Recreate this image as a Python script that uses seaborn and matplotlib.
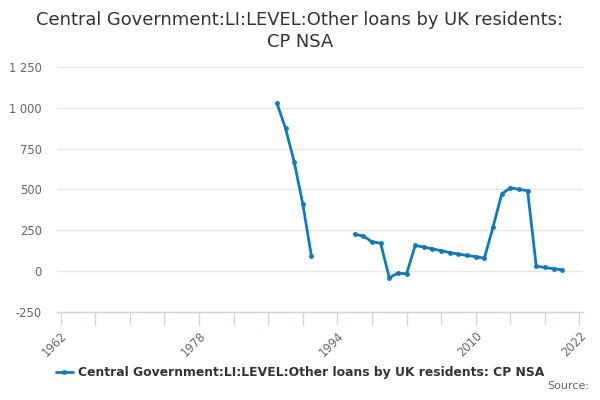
import pandas as pd
import numpy as np
import matplotlib
matplotlib.use('Agg')
import matplotlib.pyplot as plt
import seaborn as sns
from matplotlib.ticker import FixedLocator, FuncFormatter

# 数据
years_a = [1987, 1988, 1989, 1990, 1991]
values_a = [1030, 875, 670, 410, 90]

years_b = [1996, 1997, 1998, 1999, 2000, 2001, 2002, 2003, 2004, 2005,
           2006, 2007, 2008, 2009, 2010, 2011, 2012, 2013, 2014, 2015,
           2016, 2017, 2018, 2019, 2020]
values_b = [224, 214, 178, 170, -42, -14, -18, 156, 146, 135,
            124, 112, 103, 95, 87, 78, 268, 471, 510, 500,
            492, 28, 21, 13, 6]

series_name = 'Central Government:LI:LEVEL:Other loans by UK residents: CP NSA'
title = 'Central Government:LI:LEVEL:Other loans by UK residents:\nCP NSA'
major_years = [1962, 1978, 1994, 2010, 2022]
minor_years = list(range(1962, 2022, 4)) + [2022]
y_ticks = [-250, 0, 250, 500, 750, 1000, 1250]

df_a = pd.DataFrame({'year': years_a, 'value': values_a})
df_b = pd.DataFrame({'year': years_b, 'value': values_b})

sns.set_theme(style='white')
plt.rcParams['font.family'] = ['DejaVu Sans']

line_color = '#0c7bc4'
axis_color = '#ccd6eb'

fig = plt.figure(figsize=(6, 4), dpi=100)
ax = fig.add_axes([0.095, 0.221, 0.877, 0.611])

for d, lab in [(df_a, series_name), (df_b, None)]:
    sns.lineplot(data=d, x='year', y='value', ax=ax, color=line_color,
                 linewidth=2, marker='o', markersize=3.5,
                 markeredgewidth=0, label=lab, legend=False)

ax.set_xlim(1961.57, 2022.43)
ax.set_ylim(-250, 1250)
ax.set_xlabel('')
ax.set_ylabel('')

ax.xaxis.set_major_locator(FixedLocator(major_years))
ax.xaxis.set_minor_locator(FixedLocator([y for y in minor_years if y not in major_years]))
ax.set_xticklabels([str(y) for y in major_years], rotation=45, ha='right',
                   rotation_mode='anchor', fontsize=8.3, color='#666666')
ax.tick_params(axis='x', which='both', length=9, width=1, color=axis_color,
               direction='out', pad=4, bottom=True)

ax.set_yticks(y_ticks)
ax.yaxis.set_major_formatter(FuncFormatter(lambda v, p: f'{int(v):,}'.replace(',', ' ')))
ax.tick_params(axis='y', length=0, labelsize=8.3, labelcolor='#666666', pad=11)
ax.grid(True, axis='y', color='#e6e6e6', linewidth=1)
ax.grid(False, axis='x')

for s in ['top', 'right', 'left']:
    ax.spines[s].set_visible(False)
ax.spines['bottom'].set_color(axis_color)
ax.spines['bottom'].set_linewidth(1)

fig.suptitle(title, fontsize=12.9, color='#333333', y=0.972, linespacing=1.3)

handles, labels = ax.get_legend_handles_labels()
leg = fig.legend(handles[:1], labels[:1], loc='center', bbox_to_anchor=(0.5, 0.068),
                 frameon=False, handlelength=1.4, handletextpad=0.4,
                 prop={'weight': 'bold', 'size': 8.9})
for t in leg.get_texts():
    t.set_color('#333333')

fig.text(0.982, 0.022, 'Source:', ha='right', va='bottom', fontsize=8, color='#666666')

fig.savefig('out.png', dpi=100)
plt.close(fig)
